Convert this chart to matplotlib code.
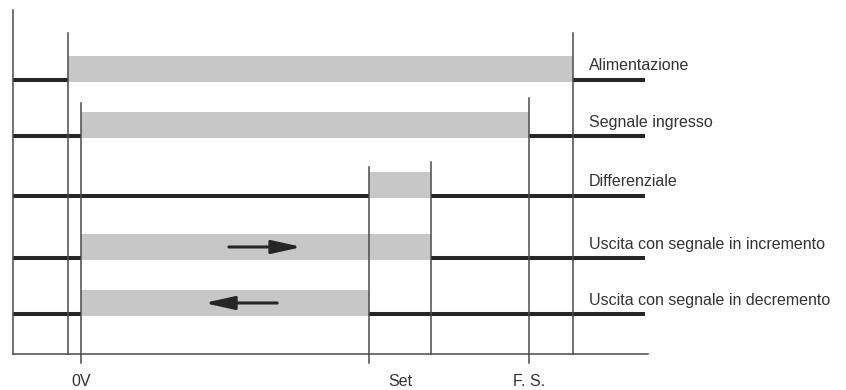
import matplotlib
matplotlib.use("Agg")
import matplotlib.pyplot as plt

# timeline events (0..100 along the time axis)
power_on = 8.7
zero_v = 10.7
set_lo = 56.1
set_hi = 65.8
full_scale = 81.3
power_off = 88.2
t_end = 99.6

row_labels = ["Alimentazione", "Segnale ingresso", "Differenziale",
              "Uscita con segnale in incremento", "Uscita con segnale in decremento"]
on_start = [power_on, zero_v, set_lo, zero_v, zero_v]
on_stop = [power_off, full_scale, set_hi, set_hi, set_lo]

# vertical guide lines: position, top (px above baseline), goes below baseline?
guide_x = [power_on, zero_v, set_lo, set_hi, full_scale, power_off]
guide_top = [321, 251, 187, 192, 256, 321]
guide_tick = [False, True, True, False, True, False]

tick_labels = ["0V", "Set", "F. S."]
tick_pos = [zero_v, (set_lo + set_hi) / 2, full_scale]

# direction arrows (start, end) in rows 3 and 4
arrow_rows = [3, 4]
arrow_from = [34.0, 41.6]
arrow_to = [45.5, 30.1]

GRAY = "#c6c7c6"
DARK = "#262626"
LINE = "#4a4a4a"
ROW_BASE = [272, 216, 156, 94, 38]  # bar bottoms, px above the baseline
BAR_H = 26

fig = plt.figure(figsize=(8.46, 3.9), dpi=100)
ax = fig.add_axes([13 / 846, 36 / 390, 635 / 846, 344 / 390])
ax.set_xlim(0, 100)
ax.set_ylim(0, 344)

for i, label in enumerate(row_labels):
    base = ROW_BASE[i]
    ax.fill_between([on_start[i], on_stop[i]], base, base + BAR_H,
                    color=GRAY, lw=0, zorder=1)
    # low level before and after the active window
    ax.plot([0, on_start[i]], [base + 2, base + 2], color=DARK, lw=2.9,
            solid_capstyle="butt", zorder=2)
    ax.plot([on_stop[i], t_end], [base + 2, base + 2], color=DARK, lw=2.9,
            solid_capstyle="butt", zorder=2)
    ax.text(90.7, base + 16, label, fontsize=11.5, color="#333333",
            family="Liberation Sans", va="center", ha="left")

for x, top, tick in zip(guide_x, guide_top, guide_tick):
    ax.plot([x, x], [-9 if tick else 0, top], color=LINE, lw=1.1,
            clip_on=False, zorder=3)

for lab, x in zip(tick_labels, tick_pos):
    ax.text(x, -28, lab, fontsize=11.5, color="#333333", family="Liberation Sans",
            ha="center", va="center", clip_on=False)

for r, x0, x1 in zip(arrow_rows, arrow_from, arrow_to):
    y = ROW_BASE[r] + BAR_H / 2
    ax.annotate("", xy=(x1, y), xytext=(x0, y),
                arrowprops=dict(arrowstyle="-|>,head_length=0.9,head_width=0.2",
                                mutation_scale=20, lw=2.2, color=DARK,
                                shrinkA=0, shrinkB=0), zorder=4)

for s in ["top", "right"]:
    ax.spines[s].set_visible(False)
for s in ["left", "bottom"]:
    ax.spines[s].set_color(LINE)
    ax.spines[s].set_linewidth(1.1)
ax.set_xticks([])
ax.set_yticks([])

fig.savefig("out.png", dpi=100)
